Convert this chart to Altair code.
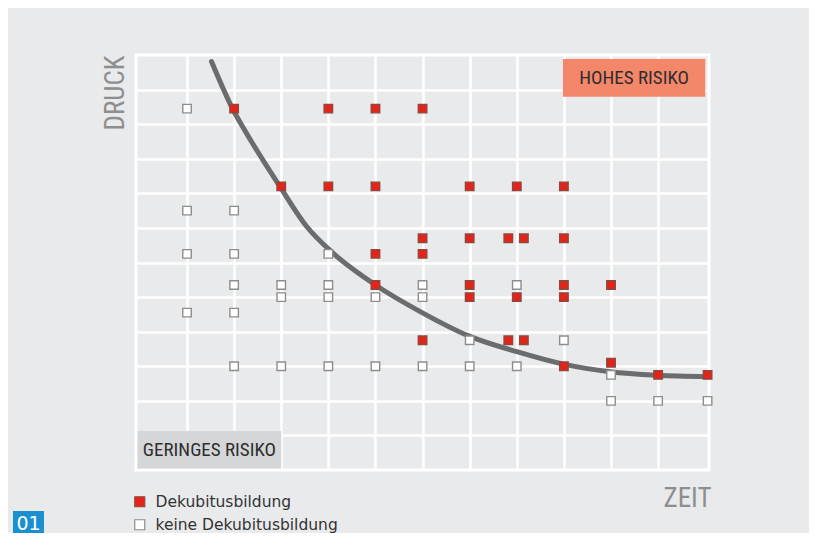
import altair as alt
import pandas as pd

# ---- data ----
red_x = [2, 4, 5, 6,
         3, 4, 5, 7, 8, 9,
         6, 7, 7.82, 8.15, 9,
         5, 6,
         5, 7, 9, 10,
         7, 8, 9,
         6, 7.82, 8.15,
         10, 9,
         11, 12.05]
red_y = [10.45, 10.45, 10.45, 10.45,
         8.2, 8.2, 8.2, 8.2, 8.2, 8.2,
         6.7, 6.7, 6.7, 6.7, 6.7,
         6.25, 6.25,
         5.35, 5.35, 5.35, 5.35,
         5.0, 5.0, 5.0,
         3.75, 3.75, 3.75,
         3.1, 3.0,
         2.75, 2.75]

open_x = [1,
          1, 2,
          1, 2, 4,
          2, 3, 4, 6, 8,
          3, 4, 5, 6,
          1, 2,
          7, 9,
          2, 3, 4, 5, 6, 7, 8,
          10,
          10, 11, 12.05]
open_y = [10.45,
          7.5, 7.5,
          6.25, 6.25, 6.25,
          5.35, 5.35, 5.35, 5.35, 5.35,
          5.0, 5.0, 5.0, 5.0,
          4.55, 4.55,
          3.75, 3.75,
          3.0, 3.0, 3.0, 3.0, 3.0, 3.0, 3.0,
          2.75,
          2.0, 2.0, 2.0]

curve_x = [1.52, 1.98, 2.2, 2.98, 3.54, 4.1, 5.0, 5.95, 6.99, 8.0, 8.99, 9.98, 10.97, 12.04]
curve_y = [11.81, 10.41, 9.88, 8.18, 7.04, 6.27, 5.35, 4.58, 3.87, 3.42, 3.06, 2.84, 2.74, 2.70]

cat_red = "Dekubitusbildung"
cat_open = "keine Dekubitusbildung"
grid_vals = list(range(1, 12))

# annotation boxes (data coordinates)
box_label = ["HOHES RISIKO", "GERINGES RISIKO"]
box_x1 = [8.98, -0.05]
box_x2 = [12.0, 3.0]
box_y1 = [10.79, 0.045]
box_y2 = [11.885, 1.128]
box_fill = ["#f4866a", "#d5d6d8"]

# ---- tables ----
pts = pd.DataFrame({
    "x": red_x + open_x,
    "y": red_y + open_y,
    "typ": [cat_red] * len(red_x) + [cat_open] * len(open_x),
})
curve = pd.DataFrame({"x": curve_x, "y": curve_y})
boxes = pd.DataFrame({
    "label": box_label, "x1": box_x1, "x2": box_x2, "y1": box_y1, "y2": box_y2,
    "fill": box_fill,
})
boxes["xc"] = (boxes.x1 + boxes.x2) / 2
boxes["yc"] = (boxes.y1 + boxes.y2) / 2

NARROW = "Liberation Sans Narrow, Arial Narrow, Roboto Condensed, sans-serif"

xs = alt.Scale(domain=[-0.083, 12.08], nice=False, zero=False)
ys = alt.Scale(domain=[0, 12], nice=False, zero=False)

x_axis = alt.Axis(values=grid_vals, labels=False, ticks=False, domain=False,
                  grid=True, gridColor="white", gridWidth=2.5, gridOpacity=1,
                  title="ZEIT", titleFont=NARROW, titleFontSize=27,
                  titleFontWeight="normal", titleColor="#8e8e8e",
                  titleX=575, titleY=36, titleAlign="right",
                  titleBaseline="alphabetic", titleAngle=0)
y_axis = alt.Axis(values=grid_vals, labels=False, ticks=False, domain=False,
                  grid=True, gridColor="white", gridWidth=2.5, gridOpacity=1,
                  title="DRUCK", titleFont=NARROW, titleFontSize=27,
                  titleFontWeight="normal", titleColor="#8e8e8e",
                  titleX=-13, titleY=0, titleAlign="right",
                  titleBaseline="alphabetic", titleAngle=270)

base_axes = alt.Chart(curve).mark_point(opacity=0).encode(
    x=alt.X("x:Q", scale=xs, axis=x_axis),
    y=alt.Y("y:Q", scale=ys, axis=y_axis),
)

rects = alt.Chart(boxes).mark_rect().encode(
    x=alt.X("x1:Q", scale=xs), x2="x2:Q",
    y=alt.Y("y1:Q", scale=ys), y2="y2:Q",
    fill=alt.Fill("fill:N", scale=None),
)
texts = alt.Chart(boxes).mark_text(font=NARROW, fontSize=19, color="#2e2e2e",
                                   align="center", baseline="middle").encode(
    x=alt.X("xc:Q", scale=xs), y=alt.Y("yc:Q", scale=ys), text="label:N",
)

line = alt.Chart(curve).mark_line(color="#6b6c6e", strokeWidth=5,
                                  strokeCap="round", interpolate="monotone").encode(
    x=alt.X("x:Q", scale=xs), y=alt.Y("y:Q", scale=ys),
)

legend = alt.Legend(title=None, orient="none", legendX=-4, legendY=439,
                    symbolType="square", symbolSize=100, symbolStrokeWidth=1.2,
                    labelFont="DejaVu Sans", labelFontSize=15.5, labelColor="#333333",
                    labelOffset=8, labelLimit=0, rowPadding=6, padding=0)

points = alt.Chart(pts).mark_square(size=72, strokeWidth=1.4, opacity=1).encode(
    x=alt.X("x:Q", scale=xs), y=alt.Y("y:Q", scale=ys),
    fill=alt.Fill("typ:N", scale=alt.Scale(domain=[cat_red, cat_open],
                                             range=["#e5231b", "#ffffff"]),
                  legend=legend),
    stroke=alt.Stroke("typ:N", scale=alt.Scale(domain=[cat_red, cat_open],
                                                 range=["#8a4a3c", "#8d8d8d"]),
                      legend=legend),
)

badge_rect = alt.Chart(curve).mark_rect(color="#1a8fd2").encode(
    x=alt.value(-123), x2=alt.value(-92), y=alt.value(456), y2=alt.value(478),
)
badge_text = alt.Chart(pd.DataFrame({"t": ["01"]})).mark_text(
    font="DejaVu Sans", fontSize=19, color="white", align="center", baseline="alphabetic"
).encode(x=alt.value(-107.5), y=alt.value(475), text="t:N")

chart = alt.layer(base_axes, rects, texts, line, points, badge_rect, badge_text).properties(
    width=573, height=415,
    autosize=alt.AutoSizeParams(type="none"),
    padding={"left": 128, "top": 47, "right": 100, "bottom": 63},
    background="#e9eaec",
).configure_view(fill="#e9eaec", stroke="white", strokeWidth=3)

chart.save("out.html", embed_options={"renderer": "svg", "actions": False})
